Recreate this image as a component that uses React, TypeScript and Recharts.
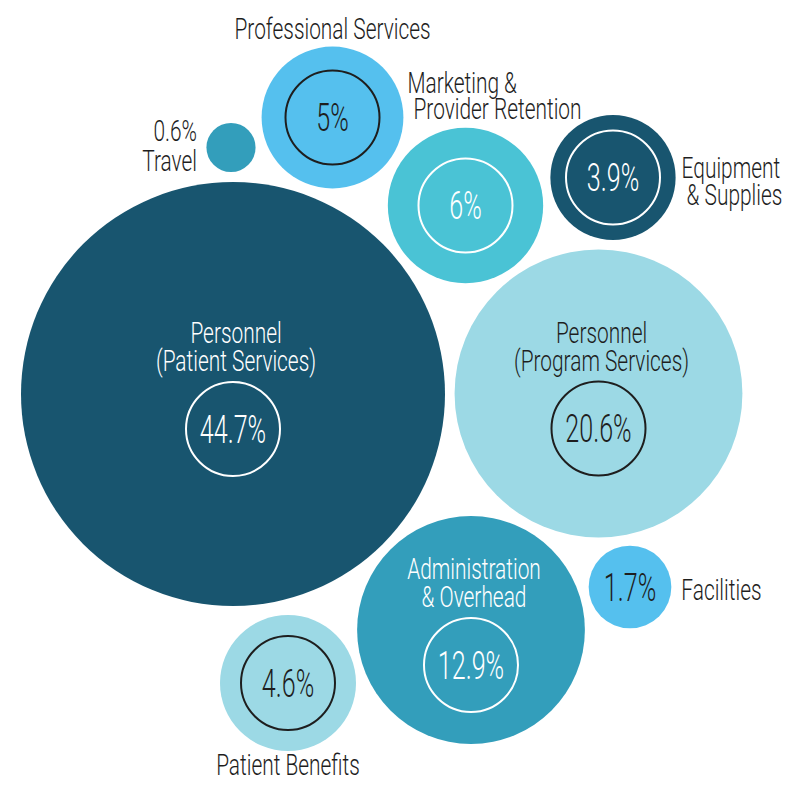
import React from 'react';
import { ScatterChart, Scatter, XAxis, YAxis, ZAxis } from 'recharts';

// budget share per category, bubble area is proportional to share
const labels = [
  ['Personnel', '(Patient Services)'],
  ['Personnel', '(Program Services)'],
  ['Administration', '& Overhead'],
  ['Patient Benefits'],
  ['Facilities'],
  ['Equipment', '& Supplies'],
  ['Marketing &', 'Provider Retention'],
  ['Professional Services'],
  ['Travel'],
];
const shares = [44.7, 20.6, 12.9, 4.6, 1.7, 3.9, 6, 5, 0.6];
const xPos = [233, 598.5, 471, 288, 630, 613, 465.5, 332.5, 231];
const yPos = [394, 393.5, 630, 683, 587, 177.5, 205.5, 117.5, 147.5];

// styling per bubble
const placement = ['inside', 'inside', 'inside', 'bottom', 'right', 'right', 'topLeft', 'top', 'left'];
const fills = ['#18556f', '#9cd9e5', '#339ebb', '#9cd9e5', '#55c0ee', '#18556f', '#4ac3d5', '#55c0ee', '#339ebb'];
const darkBg = [true, false, true, false, false, true, true, false, true];
const hasRing = [true, true, true, true, false, true, true, true, false];

const data = labels.map((lines, i) => ({
  lines,
  share: shares[i],
  x: xPos[i],
  y: yPos[i],
  idx: i,
}));

const W = 800;
const H = 792;
const MAX_R = 212;
const RING_R = 47;
const FONT = "Roboto, 'DejaVu Sans Condensed', sans-serif";
const INK = '#1e1e1e';

// one <text> per label; extra lines go in tspans (dy = line step, dx = indent)
const Txt = ({ x, y, lines, anchor = 'middle', size = 29, sx = 0.72, step = 28, indent = 0, color = INK }: any) => (
  <text
    transform={`translate(${x},${y}) scale(${sx},1)`}
    textAnchor={anchor}
    dominantBaseline="central"
    fontFamily={FONT}
    fontWeight={300}
    fontSize={size}
    fill={color}
  >
    {lines.map((t: string, k: number) => (
      <tspan key={k} x={(k * indent) / sx} y={k * step}>{t}</tspan>
    ))}
  </text>
);

const Bubble = (props: any) => {
  const { cx, cy, width, payload } = props;
  const r = width / 2;
  const i = payload.idx;
  const pos = placement[i];
  const light = darkBg[i] ? '#ffffff' : INK;
  const pct = `${payload.share}%`;
  const lines: string[] = payload.lines;

  const ringY = pos === 'inside' ? cy + 35 : cy;
  let nameEl: React.ReactNode = null;

  if (pos === 'inside') {
    nameEl = <Txt x={cx + 3} y={cy - 61} lines={lines} color={light} />;
  } else if (pos === 'top') {
    nameEl = <Txt x={cx} y={cy - r - 18} lines={lines} />;
  } else if (pos === 'bottom') {
    nameEl = <Txt x={cx} y={cy + r + 14} lines={lines} />;
  } else if (pos === 'topLeft') {
    nameEl = <Txt x={cx - 58} y={cy - 123} lines={lines} anchor="start" step={26} indent={6} />;
  } else if (pos === 'right') {
    nameEl = lines.length > 1
      ? <Txt x={cx + r + 6} y={cy - 10} lines={lines} anchor="start" step={27} indent={5} />
      : <Txt x={cx + r + 10} y={cy + 3} lines={lines} anchor="start" />;
  } else if (pos === 'left') {
    nameEl = <Txt x={cx - 34} y={cy - 17} lines={[pct, ...lines]} anchor="end" step={30} />;
  }

  return (
    <g>
      <circle cx={cx} cy={cy} r={r} fill={fills[i]} />
      {hasRing[i] && (
        <circle cx={cx} cy={ringY} r={RING_R} fill="none" stroke={light} strokeWidth={2} />
      )}
      {pos !== 'left' && (
        <Txt x={cx} y={ringY + 1} lines={[pct]} size={38} sx={0.66} color={light} />
      )}
      {nameEl}
    </g>
  );
};

export default function App() {
  return (
    <div style={{ position: 'absolute', left: 0, top: 0, width: W, height: H, background: '#fff' }}>
      <ScatterChart width={W} height={H} margin={{ top: 0, right: 0, bottom: 0, left: 0 }}>
        <XAxis type="number" dataKey="x" domain={[0, W]} hide />
        <YAxis type="number" dataKey="y" domain={[0, H]} reversed hide />
        <ZAxis
          type="number"
          dataKey="share"
          domain={[0, Math.max(...shares)]}
          range={[0, Math.PI * MAX_R * MAX_R]}
        />
        <Scatter data={data} shape={Bubble} isAnimationActive={false} />
      </ScatterChart>
    </div>
  );
}
